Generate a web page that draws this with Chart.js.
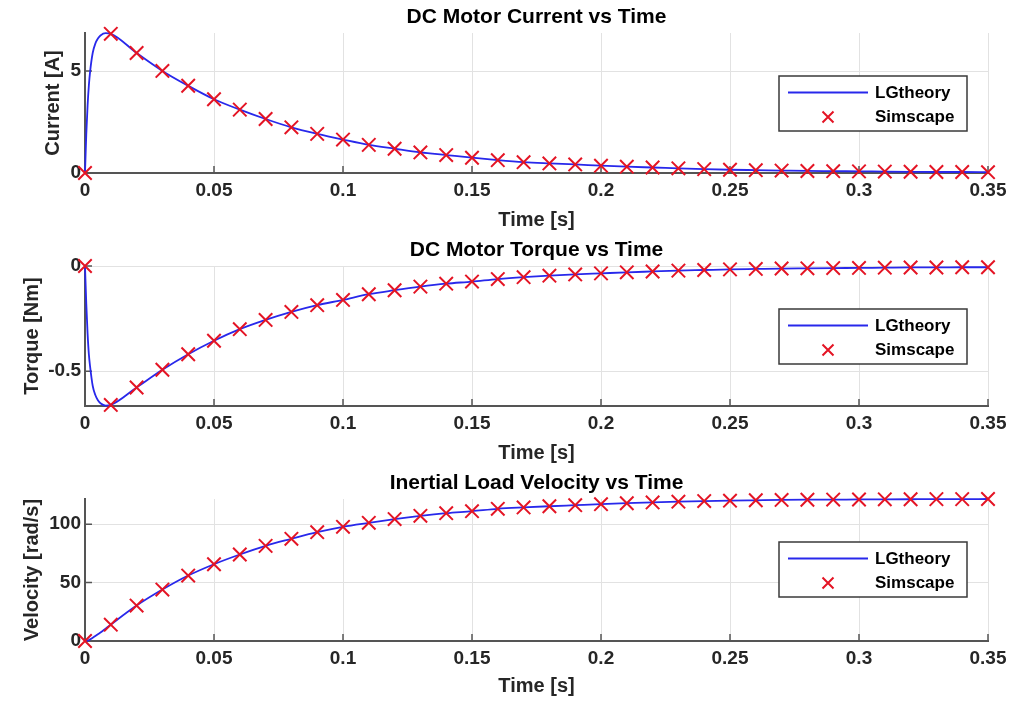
<!DOCTYPE html>
<html><head><meta charset="utf-8">
<script src="https://cdn.jsdelivr.net/npm/chart.js@4.4.1/dist/chart.umd.min.js"></script>
<style>
html,body{margin:0;padding:0;background:#fff;}
body{width:1036px;height:703px;position:relative;overflow:hidden;}
.panel{position:absolute;left:0;width:1036px;}
canvas{display:block;}
</style></head><body>
<div class="panel" style="top:0;height:233px"><canvas id="c1" width="1036" height="233"></canvas></div>
<div class="panel" style="top:233px;height:233px"><canvas id="c2" width="1036" height="233"></canvas></div>
<div class="panel" style="top:466px;height:237px"><canvas id="c3" width="1036" height="237"></canvas></div>
<script>
// ---- data ----
const time = [0,0.01,0.02,0.03,0.04,0.05,0.06,0.07,0.08,0.09,0.10,0.11,0.12,0.13,0.14,0.15,0.16,0.17,0.18,0.19,0.20,0.21,0.22,0.23,0.24,0.25,0.26,0.27,0.28,0.29,0.30,0.31,0.32,0.33,0.34,0.35];
const currentSim = [0,6.83,5.89,5.01,4.28,3.62,3.11,2.65,2.24,1.92,1.64,1.38,1.19,1.01,0.88,0.75,0.63,0.53,0.47,0.42,0.36,0.31,0.27,0.23,0.19,0.16,0.14,0.12,0.10,0.09,0.08,0.07,0.06,0.05,0.05,0.04];
const torqueSim = [0,-0.660,-0.577,-0.493,-0.419,-0.355,-0.300,-0.256,-0.218,-0.186,-0.161,-0.134,-0.115,-0.098,-0.084,-0.074,-0.062,-0.053,-0.046,-0.040,-0.035,-0.030,-0.026,-0.022,-0.019,-0.016,-0.014,-0.012,-0.011,-0.010,-0.009,-0.008,-0.007,-0.007,-0.006,-0.006];
const velocitySim = [0,14.0,30.3,44.0,56.0,65.7,74.0,81.4,87.4,93.1,97.7,101.1,104.3,107.1,109.4,111.1,113.1,114.3,115.3,116.2,117.1,117.9,118.6,119.2,119.7,120.1,120.4,120.7,120.9,121.0,121.1,121.2,121.3,121.4,121.4,121.5];
// theory curve: extra early samples before 0.01 s, then the same grid
const earlyTime = [0,0.0005,0.001,0.0015,0.002,0.003,0.004,0.005,0.006,0.008];
const currentEarly = [0,1.9,3.3,4.3,5.0,5.9,6.35,6.6,6.75,6.86];
const torqueEarly = [0,-0.18,-0.32,-0.42,-0.48,-0.57,-0.613,-0.638,-0.652,-0.663];
const velocityEarly = [0,0.1,0.4,0.8,1.4,2.8,4.3,5.8,7.3,10.6];
const xTickValues = [0,0.05,0.1,0.15,0.2,0.25,0.3,0.35];
const xTickLabels = ['0','0.05','0.1','0.15','0.2','0.25','0.3','0.35'];
const currentTicks = [0,5], currentTickLabels = ['0','5'];
const torqueTicks = [-0.5,0], torqueTickLabels = ['-0.5','0'];
const velocityTicks = [0,50,100], velocityTickLabels = ['0','50','100'];
const seriesNames = ['LGtheory','Simscape'];

// ---- styling ----
const FONT = "'Liberation Sans', Arial, Helvetica, sans-serif";
const TXT = '#262626';
const AX = '#555555';
const BLUE = 'rgb(40,40,235)';
const RED = 'rgb(228,20,36)';

const innerTicks = {
  id:'innerTicks',
  beforeDatasetsDraw(chart){
    const {ctx, chartArea:a, scales:{x,y}} = chart;
    ctx.save(); ctx.strokeStyle = AX; ctx.lineWidth = 1.5; ctx.beginPath();
    x.ticks.forEach(t=>{const p=x.getPixelForValue(t.value); ctx.moveTo(p,a.bottom); ctx.lineTo(p,a.bottom-7);});
    y.ticks.forEach(t=>{const p=y.getPixelForValue(t.value); ctx.moveTo(a.left,p); ctx.lineTo(a.left+7,p);});
    ctx.stroke(); ctx.restore();
  }
};
const boxLegend = {
  id:'boxLegend',
  afterDraw(chart){
    const {ctx, chartArea:a} = chart;
    const L = 779, R = 967, T = a.top + 43, H = 55;
    ctx.save();
    ctx.fillStyle = '#fff'; ctx.fillRect(L,T,R-L,H);
    ctx.strokeStyle = '#3a3a3a'; ctx.lineWidth = 1.5; ctx.strokeRect(L,T,R-L,H);
    const ds = chart.data.datasets;
    const r1 = T + 17.5, r2 = T + 41;
    ctx.strokeStyle = ds[0].borderColor; ctx.lineWidth = 1.8;
    ctx.beginPath(); ctx.moveTo(788, r1-1); ctx.lineTo(868, r1-1); ctx.stroke();
    ctx.strokeStyle = ds[1].borderColor; ctx.lineWidth = 2;
    ctx.beginPath(); ctx.moveTo(822.5,r2-5.5); ctx.lineTo(833.5,r2+5.5); ctx.moveTo(833.5,r2-5.5); ctx.lineTo(822.5,r2+5.5); ctx.stroke();
    ctx.fillStyle = '#000'; ctx.font = 'bold 17px ' + FONT; ctx.textBaseline = 'middle'; ctx.textAlign = 'left';
    ctx.fillText(ds[0].label, 875, r1);
    ctx.fillText(ds[1].label, 875, r2);
    ctx.restore();
  }
};

function pairs(xs, ys){ return xs.map((v,i)=>({x:v, y:ys[i]})); }

function makeChart(id, p){
  const theory = pairs(earlyTime, p.early).concat(pairs(time.slice(1), p.sim.slice(1)));
  return new Chart(document.getElementById(id), {
    type:'scatter',
    data:{datasets:[
      {label:seriesNames[0], data:theory, showLine:true, borderColor:BLUE, borderWidth:1.8, pointRadius:0, cubicInterpolationMode:'monotone', order:1, clip:false},
      {label:seriesNames[1], data:pairs(time, p.sim), showLine:false, pointStyle:'crossRot', pointRadius:9.5, borderColor:RED, backgroundColor:RED, pointBorderWidth:2, order:0, clip:false}
    ]},
    options:{
      responsive:false, animation:false, events:[],
      layout:{padding:{left:0,right:48,top:0,bottom:0}},
      plugins:{
        legend:{display:false}, tooltip:{enabled:false},
        title:{display:true, text:p.title, fullSize:false, color:'#000', font:{family:FONT,size:21,weight:'bold'}, padding:{top:4.5,bottom:3.3}}
      },
      scales:{
        x:{type:'linear', min:0, max:0.35,
           afterBuildTicks:s=>{s.ticks = xTickValues.map(v=>({value:v}));},
           afterFit:s=>{s.height = p.xh;},
           ticks:{callback:(v,i)=>xTickLabels[i], color:TXT, font:{family:FONT,size:19,weight:'bold'}, padding:6.5, maxRotation:0, autoSkip:false},
           grid:{color:'#e2e2e2', lineWidth:1, drawTicks:false},
           border:{display:true, color:AX, width:2},
           title:{display:true, text:'Time [s]', color:TXT, font:{family:FONT,size:20,weight:'bold'}, padding:{top:0,bottom:p.xtp}}},
        y:{type:'linear', min:p.ymin, max:p.ymax,
           afterBuildTicks:s=>{s.ticks = p.yt.map(v=>({value:v}));},
           afterFit:s=>{s.width = 85;},
           ticks:{callback:(v,i)=>p.ytl[i], color:TXT, font:{family:FONT,size:19,weight:'bold'}, padding:4},
           grid:{color:'#e2e2e2', lineWidth:1, drawTicks:false},
           border:{display:true, color:AX, width:2},
           title:{display:true, text:p.ytitle, color:TXT, font:{family:FONT,size:20,weight:'bold'}, padding:{top:p.ytp,bottom:0}}}
      }
    },
    plugins:[innerTicks, boxLegend]
  });
}

makeChart('c1', {title:'DC Motor Current vs Time', ytitle:'Current [A]', sim:currentSim, early:currentEarly, ymin:0, ymax:6.87, yt:currentTicks, ytl:currentTickLabels, ytp:41, xh:60, xtp:0.5});
makeChart('c2', {title:'DC Motor Torque vs Time', ytitle:'Torque [Nm]', sim:torqueSim, early:torqueEarly, ymin:-0.665, ymax:0, yt:torqueTicks, ytl:torqueTickLabels, ytp:20.5, xh:60, xtp:0.5});
makeChart('c3', {title:'Inertial Load Velocity vs Time', ytitle:'Velocity [rad/s]', sim:velocitySim, early:velocityEarly, ymin:0, ymax:121.5, yt:velocityTicks, ytl:velocityTickLabels, ytp:20.5, xh:62, xtp:4.5});
</script>
</body></html>
